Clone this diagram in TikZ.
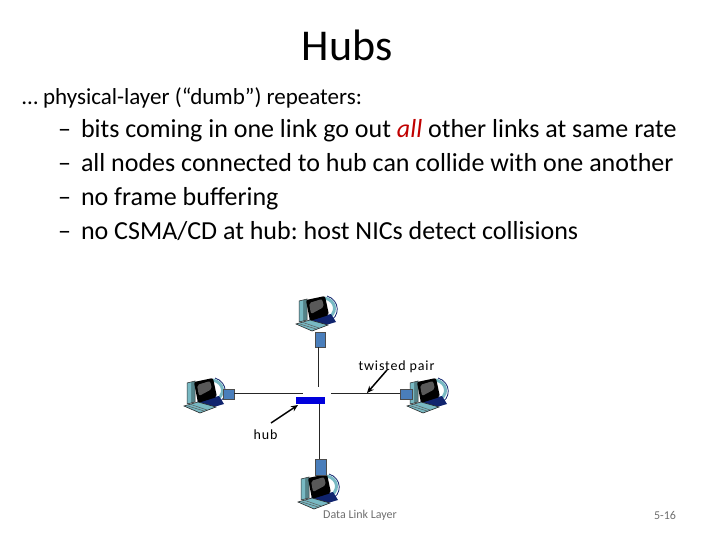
\documentclass[tikz,border=0pt]{standalone}
\usepackage{fontspec}
\setmainfont{Carlito}
\newfontfamily\labelfont[LetterSpace=6]{Carlito}
\usetikzlibrary{calc,arrows.meta}
\definecolor{nicblue}{RGB}{74,126,187}
\definecolor{hubblue}{RGB}{0,0,220}
\definecolor{iconteal}{RGB}{120,185,195}
\definecolor{iconnavy}{RGB}{16,36,110}
\definecolor{footgray}{RGB}{110,110,110}
\tikzset{
	txt/.style={inner sep=0, outer sep=0, anchor=base west},
	bullet/.style={txt, font=\fontsize{26}{26}\selectfont},
	foot/.style={inner sep=0, outer sep=0, font=\fontsize{12}{12}\selectfont, text=footgray},
	tag/.style={inner sep=0, outer sep=0, font=\labelfont\fontsize{14}{14}\selectfont},
	nicbox/.style={draw=black!70, line width=0.3pt, fill=nicblue, inner sep=0, outer sep=0},
	wire/.style={line width=0.7pt, color=black!85},
	pointer/.style={line width=1.5pt, -{Stealth[length=7pt,width=6pt]}},
}
\def\computer(#1,#2){
	\begin{scope}[shift={(#1,#2)}]
		\fill[iconteal!70!black] (2, 4) -- (10, 2) -- (10, 23) -- (2, 25) -- cycle;
		\fill[iconteal] (2, 4) -- (6, 3) -- (6, 24) -- (2, 25) -- cycle;
		\draw[line width=0.5pt, color=black!80] (2, 4) -- (10, 2) -- (10, 23) -- (2, 25) -- cycle;
		\draw[line width=3pt, color=iconteal] (28, 1) .. controls (40, 4) and (41, 17) .. (29, 22);
		\draw[line width=0.8pt, color=iconnavy] (30, -1) .. controls (43, 3) and (44, 20) .. (31, 25);
		\fill[iconnavy] (12, 22) -- (34, 17) -- (39, 25) -- (22, 30) -- cycle;
		\fill[black, rounded corners=2pt] (9, 3) -- (28, -1) -- (32, 18) -- (13, 24) -- cycle;
		\fill[black!65, rounded corners=2pt] (12, 6) -- (25, 2) -- (27, 10) -- (14, 17) -- cycle;
		\fill[iconteal] (-1, 27) -- (13, 23) -- (31, 28) -- (15, 34) -- cycle;
		\draw[line width=0.6pt, color=black!85] (-1, 27) -- (13, 23) -- (31, 28) -- (15, 34) -- cycle;
		\draw[line width=0.5pt, color=black!65] (6, 25.5) -- (22, 31);
		\draw[line width=0.5pt, color=black!65] (3, 27) -- (19, 32);
	\end{scope}
}

\begin{document}
\begin{tikzpicture}[x=1pt, y=-1pt]
		%%%%% START %%%%%
		
		\useasboundingbox (0, 0) rectangle (720, 540);
		
		\node[inner sep=0, outer sep=0, font=\fontsize{44}{44}\selectfont] (title) at (347, 45) {Hubs};
		\node[txt, font=\fontsize{23}{23}\selectfont] (intro) at (22, 105) {… physical-layer (“dumb”) repeaters:};
		
		\node[bullet] (dashone) at (58, 138) {–};
		\node[bullet] (lineone) at (81, 138) {\frenchspacing bits coming in one link go out \textcolor[RGB]{192,0,0}{\textit{all}} other links at same rate};
		\node[bullet] (dashtwo) at (58, 172) {–};
		\node[bullet] (linetwo) at (81, 172) {\frenchspacing all nodes connected to hub can collide with one another};
		\node[bullet] (dashthree) at (58, 206) {–};
		\node[bullet] (linethree) at (81, 206) {\frenchspacing no frame buffering};
		\node[bullet] (dashfour) at (58, 240) {–};
		\node[bullet] (linefour) at (81, 240) {\frenchspacing no CSMA/CD at hub: host NICs detect collisions};
		
		\computer(297,297)
		\computer(185,379)
		\computer(408,379)
		\computer(299,475)
		
		\node[nicbox, minimum width=10pt, minimum height=15pt] (nictop) at (320, 339.5) {};
		\node[nicbox, minimum width=11pt, minimum height=10pt] (nicleft) at (228.5, 394) {};
		\node[nicbox, minimum width=12pt, minimum height=10pt] (nicright) at (406, 394) {};
		\node[nicbox, minimum width=11pt, minimum height=16pt] (nicbottom) at (320.5, 467) {};
		
		\node[fill=hubblue, inner sep=0, outer sep=0, minimum width=29pt, minimum height=7pt] (hub) at (310.5, 400.5) {};
		
		\coordinate (endtop) at (318, 387);
		\coordinate (endleft) at (303, 393);
		\coordinate (endright) at (331, 393);
		\coordinate (endbottom) at (319, 404);
		
		\draw[wire] (nictop.south -| endtop) -- (endtop);
		\draw[wire] (nicleft.east |- endleft) -- (endleft);
		\draw[wire] (nicright.west |- endright) -- (endright);
		\draw[wire] (nicbottom.north -| endbottom) -- (endbottom);
		
		\node[tag] (twisted) at (396.5, 367) {twisted pair};
		\node[tag] (hublabel) at (265.5, 435) {hub};
		\coordinate (twistedtail) at (387, 370);
		\coordinate (twistedtip) at (367, 393);
		\coordinate (hubtail) at (271, 423);
		\coordinate (hubtip) at (298, 405);
		\draw[pointer] (twistedtail) -- (twistedtip);
		\draw[pointer] (hubtail) -- (hubtip);
		
		\node[foot] (footer) at (360, 515) {Data Link Layer};
		\node[foot] (pagenum) at (665, 515) {5-16};
		
		%%%%% END %%%%%
	\end{tikzpicture}
\end{document}
